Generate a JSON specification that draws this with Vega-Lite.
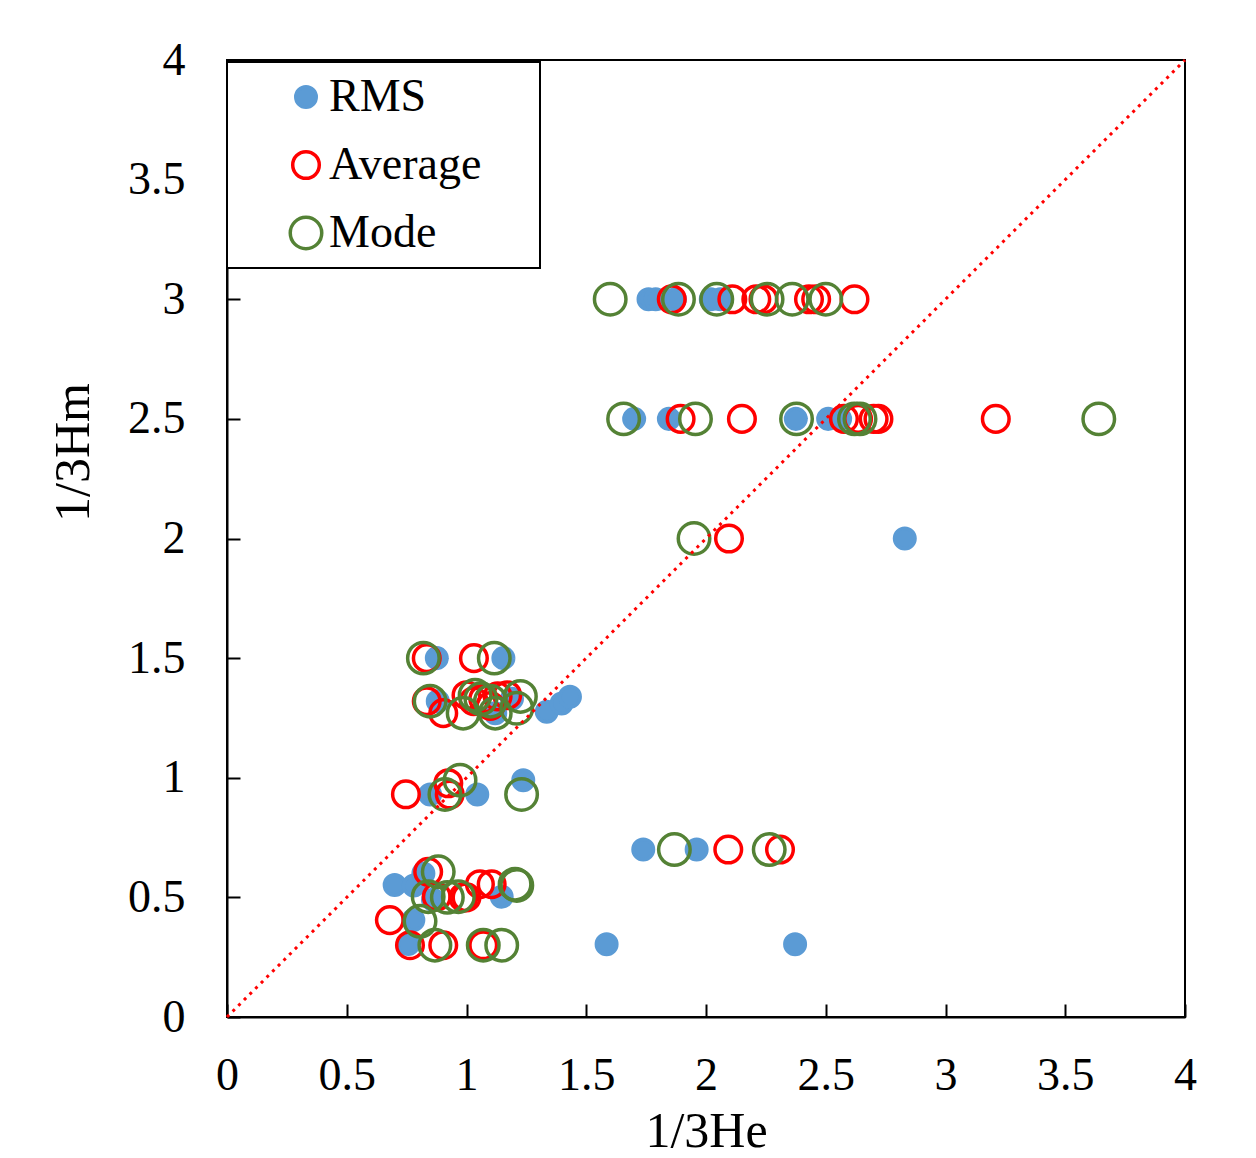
{
  "$schema": "https://vega.github.io/schema/vega-lite/v6.json",
  "width": 958,
  "height": 957,
  "autosize": {"type": "none"},
  "padding": {"left": 227, "top": 60, "right": 71, "bottom": 141},
  "background": "white",
  "config": {
    "font": "Liberation Serif",
    "view": {"stroke": "black", "strokeWidth": 2},
    "axis": {
      "grid": false,
      "domainColor": "black",
      "domainWidth": 2,
      "tickColor": "black",
      "tickWidth": 2,
      "tickSize": -13,
      "labelFont": "Liberation Serif",
      "labelFontSize": 46,
      "labelColor": "black",
      "titleFont": "Liberation Serif",
      "titleFontSize": 50,
      "titleFontWeight": "normal",
      "titleColor": "black",
      "labelOverlap": false,
      "labelFlush": false
    },
    "legend": {
      "orient": "none",
      "legendX": 0,
      "legendY": 2,
      "strokeColor": "black",
      "strokeWidth": 2,
      "fillColor": "white",
      "padding": 12,
      "labelFont": "Liberation Serif",
      "labelFontSize": 46,
      "labelColor": "black",
      "labelLimit": 400,
      "rowPadding": 22,
      "symbolOffset": 44,
      "labelOffset": 0,
      "symbolType": "circle",
      "symbolStrokeWidth": 3.5
    }
  },
  "datasets": {
    "diag": [{"he": 0, "hm": 0}, {"he": 4, "hm": 4}],
    "pts": [
      {"series": "RMS", "he": 1.76, "hm": 3},
      {"series": "RMS", "he": 1.79, "hm": 3},
      {"series": "RMS", "he": 1.87, "hm": 3},
      {"series": "RMS", "he": 2.02, "hm": 3},
      {"series": "RMS", "he": 2.06, "hm": 3},
      {"series": "RMS", "he": 1.70, "hm": 2.5},
      {"series": "RMS", "he": 1.845, "hm": 2.5},
      {"series": "RMS", "he": 2.375, "hm": 2.5},
      {"series": "RMS", "he": 2.51, "hm": 2.5},
      {"series": "RMS", "he": 2.56, "hm": 2.5},
      {"series": "RMS", "he": 2.83, "hm": 2},
      {"series": "RMS", "he": 0.876, "hm": 1.5},
      {"series": "RMS", "he": 1.154, "hm": 1.5},
      {"series": "RMS", "he": 0.88, "hm": 1.32},
      {"series": "RMS", "he": 1.12, "hm": 1.27},
      {"series": "RMS", "he": 1.19, "hm": 1.33},
      {"series": "RMS", "he": 1.335, "hm": 1.276},
      {"series": "RMS", "he": 1.397, "hm": 1.31},
      {"series": "RMS", "he": 1.432, "hm": 1.339},
      {"series": "RMS", "he": 0.848, "hm": 0.93},
      {"series": "RMS", "he": 1.045, "hm": 0.93},
      {"series": "RMS", "he": 1.237, "hm": 0.99},
      {"series": "RMS", "he": 1.738, "hm": 0.7},
      {"series": "RMS", "he": 1.961, "hm": 0.7},
      {"series": "RMS", "he": 0.70, "hm": 0.552},
      {"series": "RMS", "he": 0.78, "hm": 0.55},
      {"series": "RMS", "he": 0.82, "hm": 0.60},
      {"series": "RMS", "he": 0.86, "hm": 0.49},
      {"series": "RMS", "he": 1.147, "hm": 0.503},
      {"series": "RMS", "he": 0.778, "hm": 0.405},
      {"series": "RMS", "he": 0.757, "hm": 0.305},
      {"series": "RMS", "he": 1.585, "hm": 0.304},
      {"series": "RMS", "he": 2.372, "hm": 0.304},
      {"series": "Average", "he": 1.857, "hm": 3},
      {"series": "Average", "he": 2.11, "hm": 3},
      {"series": "Average", "he": 2.21, "hm": 3},
      {"series": "Average", "he": 2.24, "hm": 3},
      {"series": "Average", "he": 2.43, "hm": 3},
      {"series": "Average", "he": 2.46, "hm": 3},
      {"series": "Average", "he": 2.62, "hm": 3},
      {"series": "Average", "he": 1.894, "hm": 2.5},
      {"series": "Average", "he": 2.15, "hm": 2.5},
      {"series": "Average", "he": 2.576, "hm": 2.5},
      {"series": "Average", "he": 2.635, "hm": 2.5},
      {"series": "Average", "he": 2.70, "hm": 2.5},
      {"series": "Average", "he": 2.72, "hm": 2.5},
      {"series": "Average", "he": 3.21, "hm": 2.5},
      {"series": "Average", "he": 2.096, "hm": 2},
      {"series": "Average", "he": 0.834, "hm": 1.5},
      {"series": "Average", "he": 1.031, "hm": 1.5},
      {"series": "Average", "he": 0.834, "hm": 1.32},
      {"series": "Average", "he": 0.903, "hm": 1.27},
      {"series": "Average", "he": 1.00, "hm": 1.345},
      {"series": "Average", "he": 1.03, "hm": 1.32},
      {"series": "Average", "he": 1.07, "hm": 1.33},
      {"series": "Average", "he": 1.10, "hm": 1.30},
      {"series": "Average", "he": 1.13, "hm": 1.34},
      {"series": "Average", "he": 1.17, "hm": 1.345},
      {"series": "Average", "he": 0.747, "hm": 0.931},
      {"series": "Average", "he": 0.924, "hm": 0.977},
      {"series": "Average", "he": 0.93, "hm": 0.93},
      {"series": "Average", "he": 2.093, "hm": 0.7},
      {"series": "Average", "he": 2.309, "hm": 0.7},
      {"series": "Average", "he": 0.84, "hm": 0.607},
      {"series": "Average", "he": 0.876, "hm": 0.503},
      {"series": "Average", "he": 0.987, "hm": 0.50},
      {"series": "Average", "he": 1.00, "hm": 0.50},
      {"series": "Average", "he": 1.056, "hm": 0.555},
      {"series": "Average", "he": 1.105, "hm": 0.555},
      {"series": "Average", "he": 0.68, "hm": 0.405},
      {"series": "Average", "he": 0.764, "hm": 0.30},
      {"series": "Average", "he": 0.903, "hm": 0.30},
      {"series": "Average", "he": 1.07, "hm": 0.30},
      {"series": "Mode", "he": 1.60, "hm": 3},
      {"series": "Mode", "he": 1.885, "hm": 3},
      {"series": "Mode", "he": 2.045, "hm": 3},
      {"series": "Mode", "he": 2.255, "hm": 3},
      {"series": "Mode", "he": 2.36, "hm": 3},
      {"series": "Mode", "he": 2.50, "hm": 3},
      {"series": "Mode", "he": 1.656, "hm": 2.5},
      {"series": "Mode", "he": 1.956, "hm": 2.5},
      {"series": "Mode", "he": 2.378, "hm": 2.5},
      {"series": "Mode", "he": 2.62, "hm": 2.5},
      {"series": "Mode", "he": 2.643, "hm": 2.5},
      {"series": "Mode", "he": 3.64, "hm": 2.5},
      {"series": "Mode", "he": 1.95, "hm": 2},
      {"series": "Mode", "he": 0.82, "hm": 1.5},
      {"series": "Mode", "he": 1.116, "hm": 1.5},
      {"series": "Mode", "he": 0.848, "hm": 1.32},
      {"series": "Mode", "he": 0.986, "hm": 1.27},
      {"series": "Mode", "he": 1.036, "hm": 1.345},
      {"series": "Mode", "he": 1.06, "hm": 1.33},
      {"series": "Mode", "he": 1.10, "hm": 1.32},
      {"series": "Mode", "he": 1.12, "hm": 1.27},
      {"series": "Mode", "he": 1.21, "hm": 1.29},
      {"series": "Mode", "he": 1.225, "hm": 1.34},
      {"series": "Mode", "he": 0.91, "hm": 0.93},
      {"series": "Mode", "he": 0.973, "hm": 0.99},
      {"series": "Mode", "he": 1.23, "hm": 0.93},
      {"series": "Mode", "he": 1.868, "hm": 0.7},
      {"series": "Mode", "he": 2.264, "hm": 0.7},
      {"series": "Mode", "he": 0.882, "hm": 0.607},
      {"series": "Mode", "he": 0.84, "hm": 0.503},
      {"series": "Mode", "he": 0.92, "hm": 0.50},
      {"series": "Mode", "he": 0.966, "hm": 0.503},
      {"series": "Mode", "he": 1.203, "hm": 0.555},
      {"series": "Mode", "he": 1.21, "hm": 0.55},
      {"series": "Mode", "he": 0.806, "hm": 0.40},
      {"series": "Mode", "he": 0.868, "hm": 0.30},
      {"series": "Mode", "he": 1.07, "hm": 0.30},
      {"series": "Mode", "he": 1.147, "hm": 0.30}
    ]
  },
  "layer": [
    {
      "data": {"name": "pts"},
      "mark": {"type": "point", "shape": "circle", "opacity": 1, "strokeWidth": 3.5},
      "encoding": {
        "x": {"field": "he", "type": "quantitative", "scale": {"domain": [0, 4], "nice": false}, "axis": {"title": "1/3He", "values": [0, 0.5, 1, 1.5, 2, 2.5, 3, 3.5, 4], "format": "~g", "labelPadding": 49, "titlePadding": 8}},
        "y": {"field": "hm", "type": "quantitative", "scale": {"domain": [0, 4], "nice": false}, "axis": {"title": "1/3Hm", "values": [0, 0.5, 1, 1.5, 2, 2.5, 3, 3.5, 4], "format": "~g", "labelPadding": 55, "titleX": -154, "titleY": 392, "titleAngle": -90, "titleAlign": "center", "titleBaseline": "middle"}},
        "fill": {"field": "series", "type": "nominal", "scale": {"domain": ["RMS", "Average", "Mode"], "range": ["#5B9BD5", "transparent", "transparent"]}, "legend": {"title": "\u00a0", "titleOrient": "right", "titleFontSize": 46, "titlePadding": 47, "labelLimit": 400}},
        "stroke": {"field": "series", "type": "nominal", "scale": {"domain": ["RMS", "Average", "Mode"], "range": ["#5B9BD5", "#FF0000", "#548235"]}, "legend": {"title": "\u00a0", "titleOrient": "right", "titleFontSize": 46, "titlePadding": 47, "labelLimit": 400}},
        "size": {"field": "series", "type": "nominal", "scale": {"domain": ["RMS", "Average", "Mode"], "range": [420, 992, 992]}, "legend": {"title": "\u00a0", "titleOrient": "right", "titleFontSize": 46, "titlePadding": 47, "labelLimit": 400}}
      }
    },
    {
      "data": {"name": "diag"},
      "mark": {"type": "line", "color": "#FF0000", "strokeWidth": 3, "strokeDash": [3, 5]},
      "encoding": {
        "x": {"field": "he", "type": "quantitative"},
        "y": {"field": "hm", "type": "quantitative"}
      }
    }
  ]
}
